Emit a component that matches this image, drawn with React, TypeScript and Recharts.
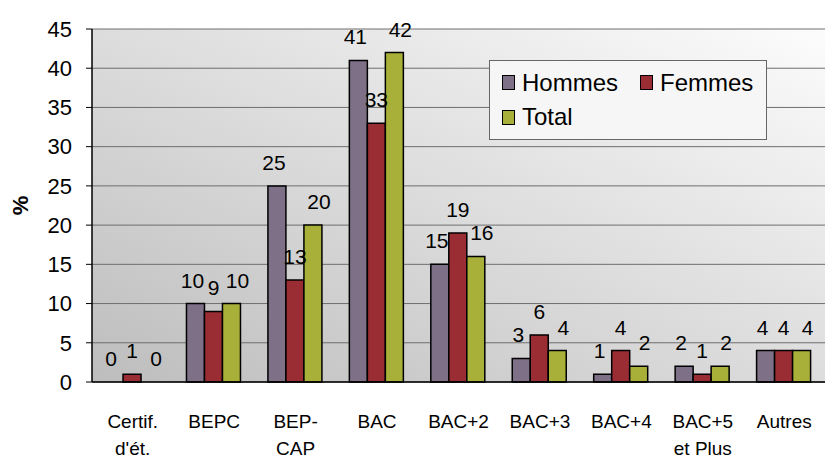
import React from "react";
import { BarChart, Bar, XAxis, YAxis, CartesianGrid, LabelList, Rectangle } from "recharts";

const categories = ["Certif.\nd'ét.", "BEPC", "BEP-\nCAP", "BAC", "BAC+2", "BAC+3", "BAC+4", "BAC+5\net Plus", "Autres"];
const hommes = [0, 10, 25, 41, 15, 3, 1, 2, 4];
const femmes = [1, 9, 13, 33, 19, 6, 4, 1, 4];
const total = [0, 10, 20, 42, 16, 4, 2, 2, 4];
const yTicks = [0, 5, 10, 15, 20, 25, 30, 35, 40, 45];

const data = categories.map((name, i) => ({
	name,
	hommes: hommes[i],
	femmes: femmes[i],
	total: total[i],
	hommesLbl: String(hommes[i]),
	femmesLbl: String(femmes[i]),
	totalLbl: String(total[i]),
}));

const SERIES = [
	{ key: "hommes", label: "Hommes", color: "#7E7187", dx: -3 },
	{ key: "femmes", label: "Femmes", color: "#9A2C33", dx: 0 },
	{ key: "total", label: "Total", color: "#A8B03A", dx: 6 },
];

const FONT = "'Liberation Sans', Arial, sans-serif";

function CategoryTick({ x, y, payload }: any) {
	const lines = String(payload.value).split("\n");
	return (
		<g>
			{lines.map((l, i) => (
				<text key={i} x={x} y={y + 38 + i * 27} textAnchor="middle" fontSize={19} fontFamily={FONT} fill="#000">
					{l}
				</text>
			))}
		</g>
	);
}

function makeLabel(dx: number) {
	return (props: any) => {
		const { x, y, width, height, value } = props;
		const top = Math.min(y, y + height);
		return (
			<text x={x + width / 2 + dx} y={top - 16} textAnchor="middle" fontSize={21} fontFamily={FONT} fill="#000">
				{value}
			</text>
		);
	};
}

// zero bars keep their slot (for the "0" label) but draw nothing
function BarShape(props: any) {
	if (Math.abs(props.height) < 1) return <g />;
	return <Rectangle {...props} />;
}

function LegendBox() {
	const item = (s: (typeof SERIES)[number]) => (
		<span style={{ display: "inline-flex", alignItems: "center", marginRight: 22 }} key={s.key}>
			<span style={{ width: 11, height: 13, background: s.color, border: "1.5px solid #000", marginRight: 7, display: "inline-block" }} />
			<span>{s.label}</span>
		</span>
	);
	return (
		<div
			style={{
				position: "absolute",
				left: 489,
				top: 60,
				width: 264,
				height: 74,
				padding: "4px 0 0 12px",
				border: "1px solid #666",
				background: "#f6f6f6",
				fontFamily: FONT,
				fontSize: 24,
				lineHeight: "34px",
				color: "#000",
				whiteSpace: "nowrap",
			}}
		>
			<div>
				{item(SERIES[0])}
				{item(SERIES[1])}
			</div>
			<div>{item(SERIES[2])}</div>
		</div>
	);
}

export default function App() {
	return (
		<div style={{ position: "absolute", left: 0, top: 0, width: 825, height: 459, background: "#fff" }}>
			<BarChart width={825} height={459} data={data} margin={{ top: 29, right: 0, bottom: 0, left: 0 }} barCategoryGap="16%" barGap={0}>
				<defs>
					<linearGradient id="bg" x1="0" y1="1" x2="1" y2="0">
						<stop offset="0%" stopColor="#bdbdbd" />
						<stop offset="100%" stopColor="#fcfcfc" />
					</linearGradient>
				</defs>
				<CartesianGrid vertical={false} stroke="#6e6e6e" strokeWidth={1} fill="url(#bg)" fillOpacity={1} />
				<XAxis
					xAxisId="num"
					type="number"
					domain={[0, 9]}
					ticks={[0, 1, 2, 3, 4, 5, 6, 7, 8, 9]}
					tickFormatter={() => ""}
					tickSize={7}
					tickLine={{ stroke: "#000" }}
					axisLine={false}
					height={0}
				/>
				<XAxis
					dataKey="name"
					xAxisId="cat"
					interval={0}
					tick={<CategoryTick />}
					tickLine={false}
					axisLine={{ stroke: "#000", strokeWidth: 1.5 }}
					height={77}
				/>
				<YAxis
					domain={[0, 45]}
					ticks={yTicks}
					interval={0}
					width={92}
					tickSize={6}
					tickMargin={14}
					tickLine={{ stroke: "#000" }}
					axisLine={{ stroke: "#000", strokeWidth: 1.5 }}
					tick={{ fontSize: 22, fontFamily: FONT, fill: "#000" }}
					label={{ value: "%", angle: -90, position: "insideLeft", offset: 20, style: { fontSize: 22, fontWeight: "bold", fontFamily: FONT, fill: "#000", textAnchor: "middle" } }}
				/>
				{SERIES.map((s) => (
					<Bar
						key={s.key}
						dataKey={s.key}
						xAxisId="cat"
						fill={s.color}
						stroke="#000"
						strokeWidth={1.5}
						minPointSize={0.5}
						shape={BarShape}
						isAnimationActive={false}
					>
						<LabelList dataKey={`${s.key}Lbl`} content={makeLabel(s.dx)} />
					</Bar>
				))}
			</BarChart>
			<LegendBox />
		</div>
	);
}
